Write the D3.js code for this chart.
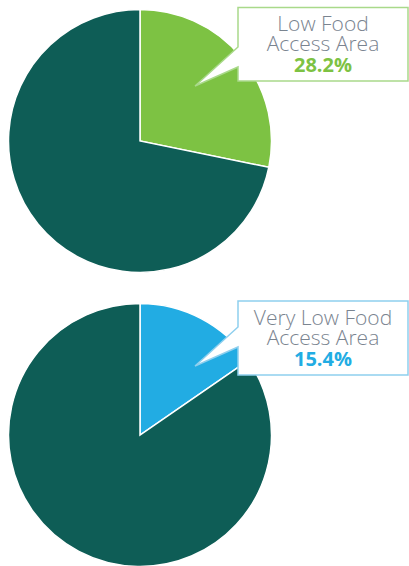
<!DOCTYPE html>
<html>
<head>
<meta charset="utf-8">
<script src="https://cdn.jsdelivr.net/npm/d3@7"></script>
<style>
  html, body { margin: 0; padding: 0; background: #ffffff; }
  svg { display: block; }
</style>
</head>
<body>
<svg id="chart" width="409" height="566"></svg>
<script>
// ---- data ----
const categories = ["Low Food Access Area", "Very Low Food Access Area"];
const labelLines = [["Low Food", "Access Area"], ["Very Low Food", "Access Area"]];
const shares = [28.2, 15.4];        // percent of total
const sliceColors = ["#7dc243", "#22ace3"];
const borderColors = ["#a9d98a", "#8ecfee"];
const restColor = "#0e5d56";

const svg = d3.select("#chart");
const radius = 131.5;
const centers = [[140, 141], [140, 435]];
const boxes = [
  { x: 238, y: 7.5, w: 170, h: 73.5, tip: [195, 86], b0: 47, b1: 67, lines: [30.5, 50.5, 71.5] },
  { x: 238, y: 301, w: 170, h: 74, tip: [195, 366], b0: 327, b1: 347, lines: [325, 344.5, 365.5] }
];

const pie = d3.pie().sort(null).value(d => d);
const arc = d3.arc().innerRadius(0).outerRadius(radius);

shares.forEach((s, i) => {
  const g = svg.append("g").attr("transform", `translate(${centers[i][0]},${centers[i][1]})`);
  const arcs = pie([s, 100 - s]);
  g.selectAll("path")
    .data(arcs)
    .join("path")
    .attr("d", arc)
    .attr("fill", (d, j) => j === 0 ? sliceColors[i] : restColor)
    .attr("stroke", "#ffffff")
    .attr("stroke-width", 1.5)
    .attr("stroke-linejoin", "miter");

  // callout
  const b = boxes[i];
  const p = d3.path();
  p.moveTo(b.x, b.y);
  p.lineTo(b.x + b.w, b.y);
  p.lineTo(b.x + b.w, b.y + b.h);
  p.lineTo(b.x, b.y + b.h);
  p.lineTo(b.x, b.b1);
  p.lineTo(b.tip[0], b.tip[1]);
  p.lineTo(b.x, b.b0);
  p.closePath();
  svg.append("path")
    .attr("d", p.toString())
    .attr("fill", "#ffffff")
    .attr("stroke", borderColors[i])
    .attr("stroke-width", 1.5)
    .attr("stroke-linejoin", "miter");

  const cx = b.x + b.w / 2;
  const t = svg.append("text")
    .attr("text-anchor", "middle")
    .attr("font-family", "'Open Sans', Lato, sans-serif");
  labelLines[i].forEach((ln, k) => {
    t.append("tspan")
      .attr("x", cx)
      .attr("y", b.lines[k])
      .attr("font-weight", 350)
      .attr("font-size", 21)
      .attr("fill", "#7a8490")
      .text(ln);
  });
  t.append("tspan")
    .attr("x", cx)
    .attr("y", b.lines[2])
    .attr("font-weight", 700)
    .attr("font-size", 20)
    .attr("fill", sliceColors[i])
    .text(s.toFixed(1) + "%");
});
</script>
</body>
</html>
